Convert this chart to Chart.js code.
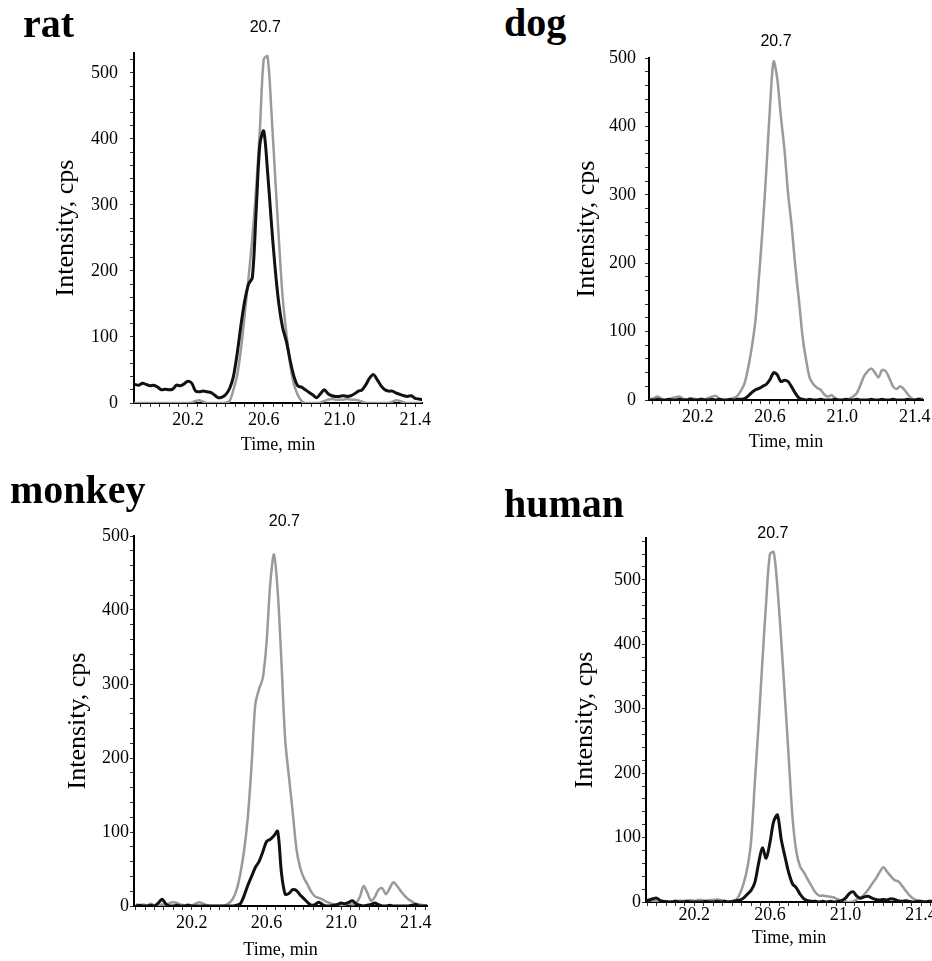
<!DOCTYPE html>
<html>
<head>
<meta charset="utf-8">
<script src="https://cdn.jsdelivr.net/npm/chart.js@4.4.1/dist/chart.umd.min.js"></script>
<style>
html,body{margin:0;padding:0;background:#fff;width:932px;height:961px;overflow:hidden;position:relative;}
.panel-title{position:absolute;font:bold 40px "Liberation Serif","Times New Roman",serif;line-height:1;color:#000;white-space:nowrap;z-index:2;}
canvas{position:absolute;z-index:1;}
</style>
</head>
<body>
<div class="panel-title" id="t0"></div>
<div class="panel-title" id="t1"></div>
<div class="panel-title" id="t2"></div>
<div class="panel-title" id="t3"></div>
<canvas id="c0"></canvas>
<canvas id="c1"></canvas>
<canvas id="c2"></canvas>
<canvas id="c3"></canvas>
<script>
// ---- data ----
const panelNames = ['rat', 'dog', 'monkey', 'human'];
const peakLabel = '20.7';
const peakLabelTimes = [20.608, 20.633, 20.696, 20.616];
const yTickLabels = [0, 100, 200, 300, 400, 500];
const xTickLabels = [20.2, 20.6, 21.0, 21.4];
const yAxisTitle = 'Intensity, cps';
const xAxisTitle = 'Time, min';

const times = [19.90,19.92,19.94,19.96,19.98,20.00,20.02,20.04,20.06,20.08,
20.10,20.12,20.14,20.16,20.18,20.20,20.22,20.24,20.26,20.28,
20.30,20.32,20.34,20.36,20.38,20.40,20.42,20.44,20.46,20.48,
20.50,20.52,20.54,20.56,20.58,20.60,20.62,20.64,20.66,20.68,
20.70,20.72,20.74,20.76,20.78,20.80,20.82,20.84,20.86,20.88,
20.90,20.92,20.94,20.96,20.98,21.00,21.02,21.04,21.06,21.08,
21.10,21.12,21.14,21.16,21.18,21.20,21.22,21.24,21.26,21.28,
21.30,21.32,21.34,21.36,21.38,21.40,21.42,21.44,21.46];

const ratGray = [0,0,0,0,0,0,0,0,0,0,
0,0,0,0,0,0,1,3,4,2,
0,0,0,0,0,1,3,20,42,82,
135,190,250,325,415,520,525,445,345,248,
160,105,58,28,12,3,0,0,0,0,
1,3,5,6,5,5,5,6,5,5,
4,2,0,0,0,0,0,0,0,2,
4,3,1,0,0,0,0,0,0];
const ratBlack = [28,28,27,30,28,26,27,24,20,21,
20,21,27,26,29,33,30,18,17,18,
17,16,12,8,9,13,22,40,75,118,
155,180,190,290,392,412,352,275,205,150,
114,93,64,40,26,24,20,16,12,8,
14,20,14,11,10,10,11,10,11,14,
18,20,28,38,43,35,26,20,18,18,
15,13,11,10,11,7,6,5,5];

const dogGray = [0,0,1,3,5,2,0,1,3,4,
5,2,1,3,2,1,2,1,3,5,
6,2,0,0,1,3,6,14,25,48,
78,117,183,254,337,429,495,470,415,366,
302,254,195,146,93,58,32,23,18,15,
8,5,7,3,0,0,1,2,5,10,
22,35,42,46,40,33,44,42,32,20,
16,20,16,9,3,0,2,2,1];
const dogBlack = [1,1,0,0,1,0,0,1,0,0,
1,0,0,1,0,0,1,0,0,1,
0,1,0,0,1,0,1,1,2,6,
11,15,17,20,23,30,40,37,27,29,
27,19,10,3,1,0,1,0,0,1,
0,0,0,1,0,0,1,0,0,1,
0,0,0,1,0,0,1,0,0,1,
0,0,0,1,0,0,1,0,0];

const monkeyGray = [2,1,2,1,3,1,0,2,1,4,
5,4,2,1,2,1,3,5,3,1,
0,0,0,0,1,4,10,22,44,75,
120,190,272,293,308,355,435,475,425,330,
225,175,128,78,52,38,29,19,13,11,
9,6,4,2,0,1,2,3,2,4,
12,27,18,7,12,22,24,16,24,32,
27,20,14,9,6,3,2,1,1];
const monkeyBlack = [0,1,0,0,1,0,4,9,3,0,
0,1,0,0,1,0,0,0,0,0,
0,0,0,0,0,0,0,1,3,14,
28,40,52,60,73,87,90,95,101,45,
16,17,22,21,15,10,5,1,2,5,
2,0,0,1,2,4,3,5,7,3,
1,0,1,2,4,2,0,0,1,0,
0,0,0,0,1,2,0,0,0];

const humanGray = [2,2,2,3,2,1,1,1,1,1,
2,2,2,2,3,2,3,3,2,3,
3,4,3,2,1,1,3,12,28,52,
93,185,275,373,465,540,543,487,405,315,
222,130,78,55,46,35,25,15,10,10,
9,8,7,4,2,1,0,1,4,7,
12,19,28,36,46,54,47,40,34,32,
25,17,10,5,2,1,1,1,1];
const humanBlack = [1,1,2,3,5,6,2,1,0,0,
1,0,0,1,0,0,0,0,1,0,
0,1,0,1,0,1,2,3,6,12,
18,30,60,84,68,92,125,135,97,70,
45,28,22,12,5,2,1,1,0,1,
0,1,0,1,2,6,13,16,9,6,
8,9,6,4,3,4,3,5,4,2,
1,2,1,0,1,1,0,1,1];

const grayTraces = [ratGray, dogGray, monkeyGray, humanGray];
const blackTraces = [ratBlack, dogBlack, monkeyBlack, humanBlack];

// ---- layout / style (positions kept separate from data) ----
const PAD_TOP = 40, PAD_RIGHT = 24;
const titlePos = [
  {left: 23, top: 3.5},
  {left: 504, top: 2.5},
  {left: 10, top: 469.5},
  {left: 504, top: 483.5}
];
const layouts = [
  {left: 51,  top: 13,  yW: 83, plotW: 288, plotH: 350, xH: 53, xMin: 19.915, xMax: 21.436, yMax: 530, yPad: 12, xPad: 2,  labelOff: 25},
  {left: 572, top: 18,  yW: 77, plotW: 274, plotH: 342, xH: 53, xMin: 19.931, xMax: 21.446, yMax: 500, yPad: 9,  xPad: 2,  labelOff: 16},
  {left: 63,  top: 496, yW: 71, plotW: 293, plotH: 370, xH: 55, xMin: 19.89,  xMax: 21.46,  yMax: 500, yPad: 1,  xPad: 2,  labelOff: 14},
  {left: 570, top: 498, yW: 76, plotW: 286, plotH: 364, xH: 47, xMin: 19.944, xMax: 21.458, yMax: 565, yPad: 1,  xPad: -2, labelOff: 4}
];
const SERIF = '"Liberation Serif", "Times New Roman", serif';
const SANS = '"Liberation Sans", Arial, sans-serif';
const GRAY = '#9a9a9a', BLACK = '#111111';

const peakLabelPlugin = {
  id: 'peakLabel',
  afterDraw(chart, args, opts) {
    const {ctx, chartArea} = chart;
    const xs = chart.scales.x;
    const px = xs.getPixelForValue(opts.time);
    ctx.save();
    ctx.font = '16px ' + SANS;
    ctx.fillStyle = '#000';
    ctx.textAlign = 'center';
    ctx.textBaseline = 'middle';
    ctx.fillText(opts.text, px, chartArea.top - opts.offset);
    ctx.restore();
  }
};

function toPoints(arr) {
  return times.map((t, i) => ({x: t, y: arr[i]}));
}

panelNames.forEach((name, i) => {
  const t = document.getElementById('t' + i);
  t.textContent = name;
  t.style.left = titlePos[i].left + 'px';
  t.style.top = titlePos[i].top + 'px';

  const L = layouts[i];
  const cv = document.getElementById('c' + i);
  const W = L.yW + L.plotW + PAD_RIGHT;
  const H = PAD_TOP + L.plotH + L.xH;
  cv.width = W; cv.height = H;
  cv.style.width = W + 'px'; cv.style.height = H + 'px';
  cv.style.left = L.left + 'px'; cv.style.top = L.top + 'px';

  new Chart(cv, {
    type: 'line',
    data: {
      datasets: [
        {label: 'black', data: toPoints(blackTraces[i]), borderColor: BLACK, borderWidth: 3, pointRadius: 0, tension: 0.3, fill: false},
        {label: 'gray', data: toPoints(grayTraces[i]), borderColor: GRAY, borderWidth: 2.5, pointRadius: 0, tension: 0.3, fill: false}
      ]
    },
    plugins: [peakLabelPlugin],
    options: {
      responsive: false,
      animation: false,
      devicePixelRatio: 1,
      layout: {padding: {top: PAD_TOP, right: PAD_RIGHT, left: 0, bottom: 0}},
      plugins: {
        legend: {display: false},
        tooltip: {enabled: false},
        peakLabel: {text: peakLabel, time: peakLabelTimes[i], offset: L.labelOff}
      },
      scales: {
        x: {
          type: 'linear',
          min: L.xMin, max: L.xMax,
          afterFit(s) { s.height = L.xH; },
          border: {display: true, color: '#000', width: 2},
          grid: {display: true, drawOnChartArea: false, drawTicks: true, tickLength: 4, color: '#333', tickWidth: 1},
          ticks: {
            stepSize: 0.05, includeBounds: false, autoSkip: false, minRotation: 0, maxRotation: 0,
            padding: L.xPad, color: '#000',
            font: {family: SERIF, size: 18},
            callback(v) {
              const m = xTickLabels.find(x => Math.abs(x - v) < 1e-6);
              return m === undefined ? '' : m.toFixed(1);
            }
          },
          title: {display: true, text: xAxisTitle, color: '#000', font: {family: SERIF, size: 18}, padding: 0}
        },
        y: {
          min: 0, max: L.yMax,
          afterFit(s) { s.width = L.yW; },
          border: {display: true, color: '#000', width: 2},
          grid: {display: true, drawOnChartArea: false, drawTicks: true, tickLength: 4, color: '#333', tickWidth: 1},
          ticks: {
            stepSize: 20, includeBounds: false, autoSkip: false, padding: L.yPad, color: '#000',
            font: {family: SERIF, size: 18},
            callback(v) {
              const r = Math.round(v);
              return (Math.abs(v - r) < 1e-6 && yTickLabels.includes(r)) ? String(r) : '';
            }
          },
          title: {display: true, text: yAxisTitle, color: '#000', font: {family: SERIF, size: 26}, padding: 0}
        }
      }
    }
  });
});
</script>
</body>
</html>
